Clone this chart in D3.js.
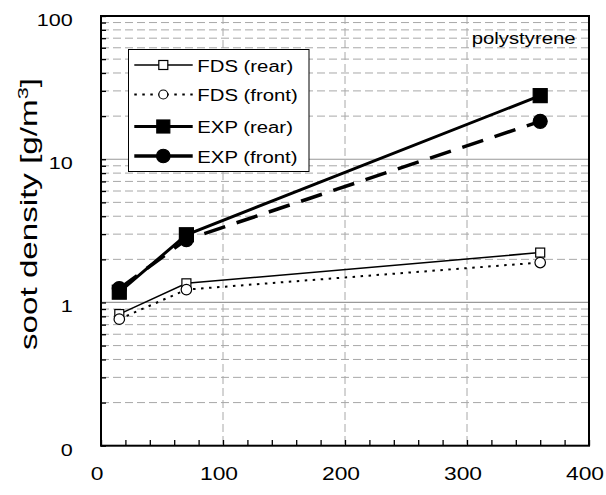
<!DOCTYPE html>
<html>
<head>
<meta charset="utf-8">
<script src="https://cdn.jsdelivr.net/npm/d3@7"></script>
<style>
  html, body { margin: 0; padding: 0; background: #fff; }
  svg { display: block; font-family: Arial, "Liberation Sans", sans-serif; }
</style>
</head>
<body>
<svg id="chart" width="606" height="495"></svg>
<script>
// ---------------- data ----------------
const xValues = [15, 70, 360];
const fdsRear = [0.83, 1.36, 2.23];
const fdsFront = [0.765, 1.23, 1.90];
const expRear = [1.18, 2.97, 27.8];
const expFront = [1.25, 2.75, 18.4];
const seriesNames = ["FDS (rear)", "FDS (front)", "EXP (rear)", "EXP (front)"];
const xTickValues = [0, 100, 200, 300, 400];
const xTickLabels = ["0", "100", "200", "300", "400"];
const yTickValues = [0.1, 1, 10, 100];
const yTickLabels = ["0", "1", "10", "100"];
const yTitleMain = "soot density [g/m";
const yTitleSup = "3";
const yTitleEnd = "]";
const annotation = "polystyrene";

// ---------------- layout ----------------
const svg = d3.select("#chart");
const L = 101, R = 589, T = 16, B = 445.7;
const x = d3.scaleLinear().domain([0, 400]).range([L, R]);
const y = d3.scaleLog().domain([0.1, 100]).range([B, T]);

// gridlines
const minorY = [];
[0.1, 1, 10].forEach(d => { for (let k = 2; k <= 9; k++) minorY.push(d * k); });
const grid = svg.append("g");
grid.selectAll("line.my").data(minorY).join("line")
  .attr("x1", L).attr("x2", R)
  .attr("y1", d => y(d)).attr("y2", d => y(d))
  .attr("stroke", "#a8a8a8").attr("stroke-width", 1)
  .attr("stroke-dasharray", "8,4");
grid.selectAll("line.vx").data([100, 200, 300]).join("line")
  .attr("y1", T).attr("y2", B)
  .attr("x1", d => x(d)).attr("x2", d => x(d))
  .attr("stroke", "#a8a8a8").attr("stroke-width", 1)
  .attr("stroke-dasharray", "8,4");
grid.selectAll("line.My").data([1, 10]).join("line")
  .attr("x1", L).attr("x2", R)
  .attr("y1", d => y(d)).attr("y2", d => y(d))
  .attr("stroke", "#999").attr("stroke-width", 1.2);

// axes ticks (inward)
const allYTicks = [0.1, 1, 10, 100].concat(minorY);
const yAxis = d3.axisLeft(y).tickValues(allYTicks).tickSizeInner(-5).tickSizeOuter(0).tickFormat("");
svg.append("g").attr("transform", `translate(${L},0)`).call(yAxis)
  .call(g => g.select(".domain").remove())
  .call(g => g.selectAll("line").attr("stroke", "#000").attr("stroke-width", 1.3));
const xAxis = d3.axisBottom(x).tickValues(d3.range(0, 401, 20)).tickSizeInner(-5.7).tickSizeOuter(0).tickFormat("");
svg.append("g").attr("transform", `translate(0,${B})`).call(xAxis)
  .call(g => g.select(".domain").remove())
  .call(g => g.selectAll("line").attr("stroke", "#000").attr("stroke-width", 1.3));

// frame
svg.append("rect").attr("x", L).attr("y", T).attr("width", R - L).attr("height", B - T)
  .attr("fill", "none").attr("stroke", "#000").attr("stroke-width", 2);

// tick labels
function stretch(sel, f) {
  sel.each(function () {
    const w = this.getComputedTextLength();
    d3.select(this).attr("textLength", w * f).attr("lengthAdjust", "spacingAndGlyphs");
  });
}
svg.append("g").selectAll("text").data(yTickValues).join("text")
  .attr("x", 72.7).attr("y", d => y(d) + 9.8)
  .attr("text-anchor", "end").style("font-size", "17px").attr("fill", "#000")
  .text((d, i) => yTickLabels[i])
  .call(stretch, 1.27);
svg.append("g").selectAll("text").data(xTickValues).join("text")
  .attr("x", d => x(d) - 4).attr("y", 480)
  .attr("text-anchor", "middle").style("font-size", "19px").attr("fill", "#000")
  .text((d, i) => xTickLabels[i])
  .call(stretch, 1.2);

// y title
const tg = svg.append("g");
const tt = tg.append("text").style("font-size", "23px").attr("fill", "#000");
tt.append("tspan").text(yTitleMain);
tt.append("tspan").attr("dy", -9).style("font-size", "15px").text(yTitleSup);
tt.append("tspan").attr("dy", 9).text(yTitleEnd);
const bb = tt.node().getBBox();
const sT = 272 / bb.width;
tg.attr("transform", `translate(31,214) rotate(-90) scale(${sT},1) translate(${-(bb.x + bb.width / 2)},6)`);

// annotation
svg.append("text").attr("x", 471.7).attr("y", 44).style("font-size", "16px").attr("fill", "#000")
  .text(annotation).call(stretch, 1.27);

// ---------------- series ----------------
const series = [
  { name: seriesNames[0], vals: fdsRear, lw: 1.5, dash: null, marker: "square", fill: "#fff", size: 9 },
  { name: seriesNames[1], vals: fdsFront, lw: 2, dash: "2.5,5.5", marker: "circle", fill: "#fff", size: 10.5 },
  { name: seriesNames[2], vals: expRear, lw: 3, dash: null, marker: "square", fill: "#000", size: 14 },
  { name: seriesNames[3], vals: expFront, lw: 3.5, dash: "22,12", marker: "circle", fill: "#000", size: 14 }
];
const line = d3.line().x(d => x(d[0])).y(d => y(d[1]));

function drawMarker(g, type, cx, cy, size, fill) {
  if (type === "square") {
    g.append("rect").attr("x", cx - size / 2).attr("y", cy - size / 2)
      .attr("width", size).attr("height", size)
      .attr("fill", fill).attr("stroke", "#000").attr("stroke-width", 1.2);
  } else {
    g.append("circle").attr("cx", cx).attr("cy", cy).attr("r", size / 2)
      .attr("fill", fill).attr("stroke", "#000").attr("stroke-width", 1.2);
  }
}

series.forEach(s => {
  const pts = xValues.map((xv, i) => [xv, s.vals[i]]);
  const g = svg.append("g");
  g.append("path").attr("d", line(pts)).attr("fill", "none")
    .attr("stroke", "#000").attr("stroke-width", s.lw)
    .attr("stroke-dasharray", s.dash);
  pts.forEach(p => drawMarker(g, s.marker, x(p[0]), y(p[1]), s.size, s.fill));
});

// ---------------- legend ----------------
const lg = svg.append("g");
lg.append("rect").attr("x", 128.5).attr("y", 49.5).attr("width", 180.5).attr("height", 122)
  .attr("fill", "#fff").attr("stroke", "#000").attr("stroke-width", 1);
const rowY = [65, 94.5, 126.5, 156];
const legSizes = [9, 9, 13, 13.5];
const legDash = [null, "2.5,5.5", null, null];
series.forEach((s, i) => {
  const ry = rowY[i];
  lg.append("line").attr("x1", 134.3).attr("x2", 192.7).attr("y1", ry).attr("y2", ry)
    .attr("stroke", "#000").attr("stroke-width", s.lw).attr("stroke-dasharray", legDash[i]);
  drawMarker(lg, s.marker, 163.3, ry, legSizes[i], s.fill);
  lg.append("text").attr("x", 197.3).attr("y", ry + 6.7).style("font-size", "16px").attr("fill", "#000")
    .text(s.name).call(stretch, 1.27);
});
</script>
</body>
</html>
